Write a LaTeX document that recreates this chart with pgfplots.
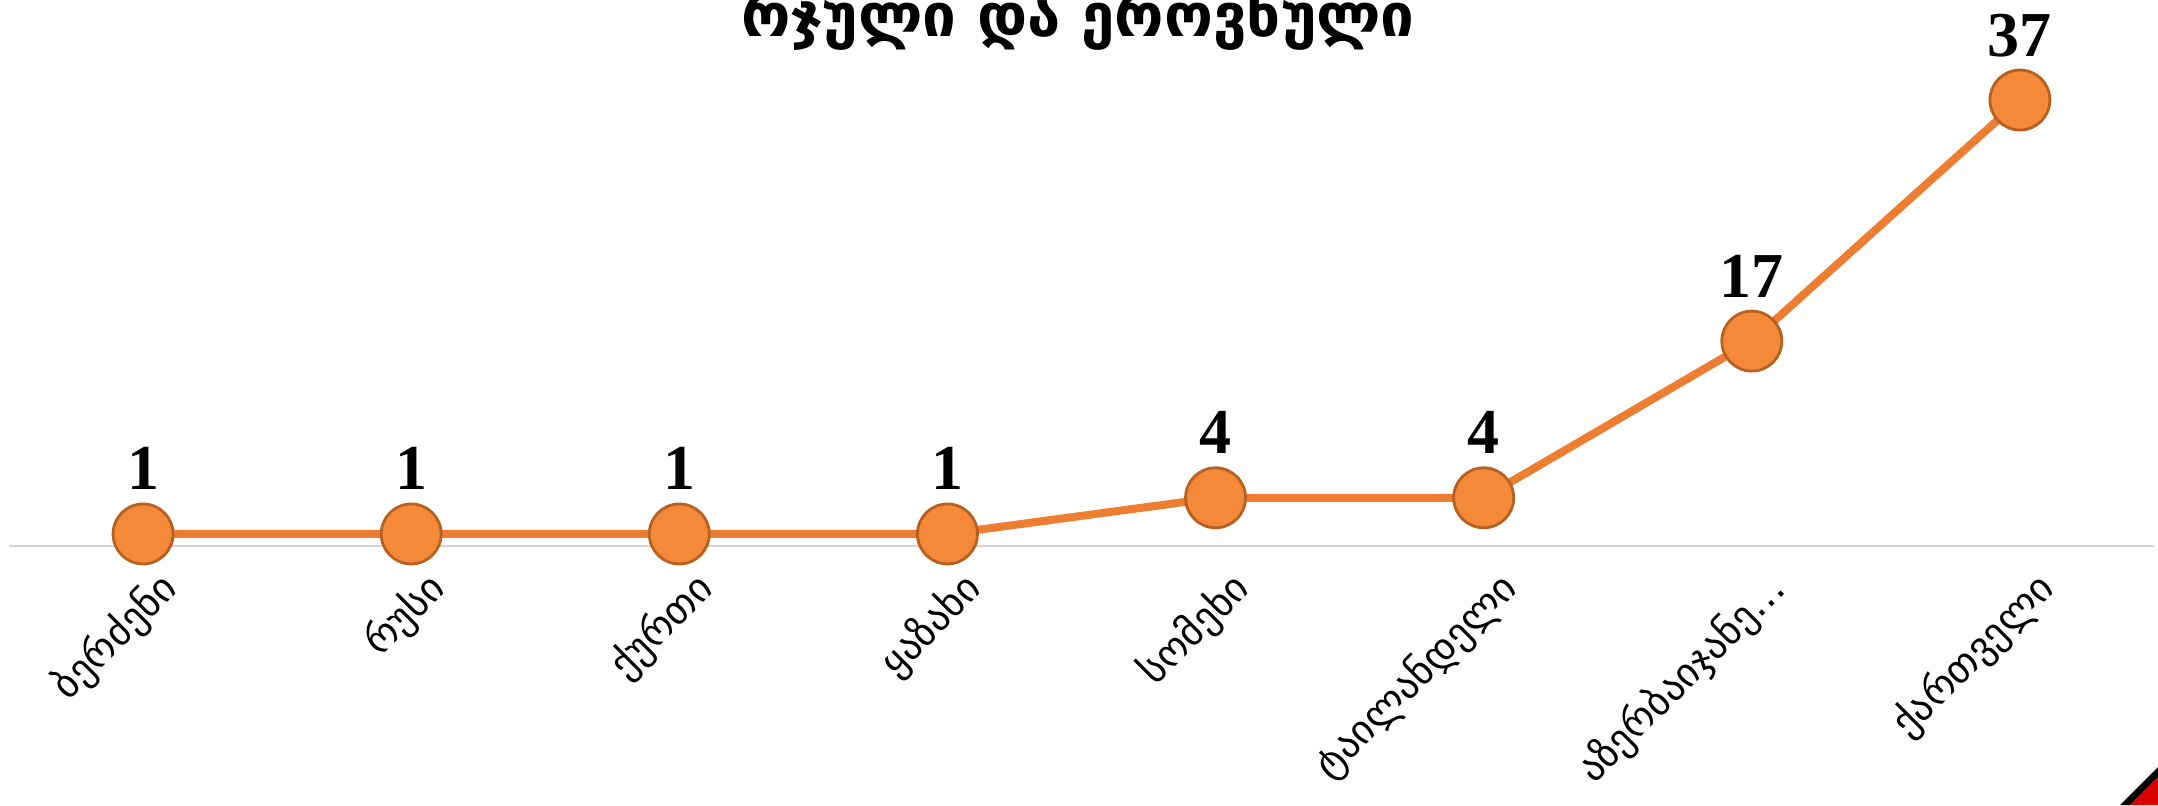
\documentclass[border=0pt]{standalone}
\usepackage{pgfplots}
\pgfplotsset{compat=1.18}
\usepackage{fontspec}
\setmainfont{Liberation Serif}
\newfontfamily\geo{DejaVu Sans}
\definecolor{lineor}{HTML}{ED7D31}
\definecolor{markor}{HTML}{F5893A}
\definecolor{markedge}{HTML}{B8601F}
\begin{document}
\begin{tikzpicture}[x=1pt,y=1pt]
\path[use as bounding box] (0,0) rectangle (539.5,201.25);
\begin{axis}[
  at={(2.25pt,64.75pt)}, anchor=south west,
  scale only axis, width=536.25pt, height=135.6pt,
  xmin=-0.5, xmax=7.5, ymin=0, ymax=45,
  axis x line*=bottom, axis y line=none,
  axis line style={draw=none},
  major tick length=0pt,
  ytick=\empty,
  clip=false,
  xtick={0,...,7},
  xticklabels={ბერძენი, რუსი, ქურთი, ყაზახი, სომეხი, ტაილანდელი, აზერბაიჯანე…, ქართველი},
  xticklabel style={xshift=7pt, yshift=-9pt, rotate=45, anchor=east, inner sep=0pt, font=\geo\fontsize{10}{12}\selectfont},
  /pgf/number format/assume math mode=true,
  nodes near coords,
  nodes near coords style={font=\bfseries\fontsize{16}{18}\selectfont, anchor=base, inner sep=0pt, yshift=11pt, text=black},
]
\draw[black!17, line width=0.6pt] (axis cs:-0.5,0) -- (axis cs:7.5,0);
\addplot[color=lineor, line width=2pt, mark=*, mark size=7.5pt,
  mark options={fill=markor, draw=markedge, line width=0.7pt}]
  coordinates {(0,1) (1,1) (2,1) (3,1) (4,4) (5,4) (6,17) (7,37)};
\end{axis}
\node[anchor=base, font=\geo\bfseries\fontsize{15}{18}\selectfont] at (269.5,192) {რჯული და ეროვნული};
\fill[black] (530,0) -- (539.5,9.5) -- (539.5,7) -- (532.5,0) -- cycle;
\fill[red!85!black] (532.5,0) -- (539.5,7) -- (539.5,0) -- cycle;
\end{tikzpicture}
\end{document}
